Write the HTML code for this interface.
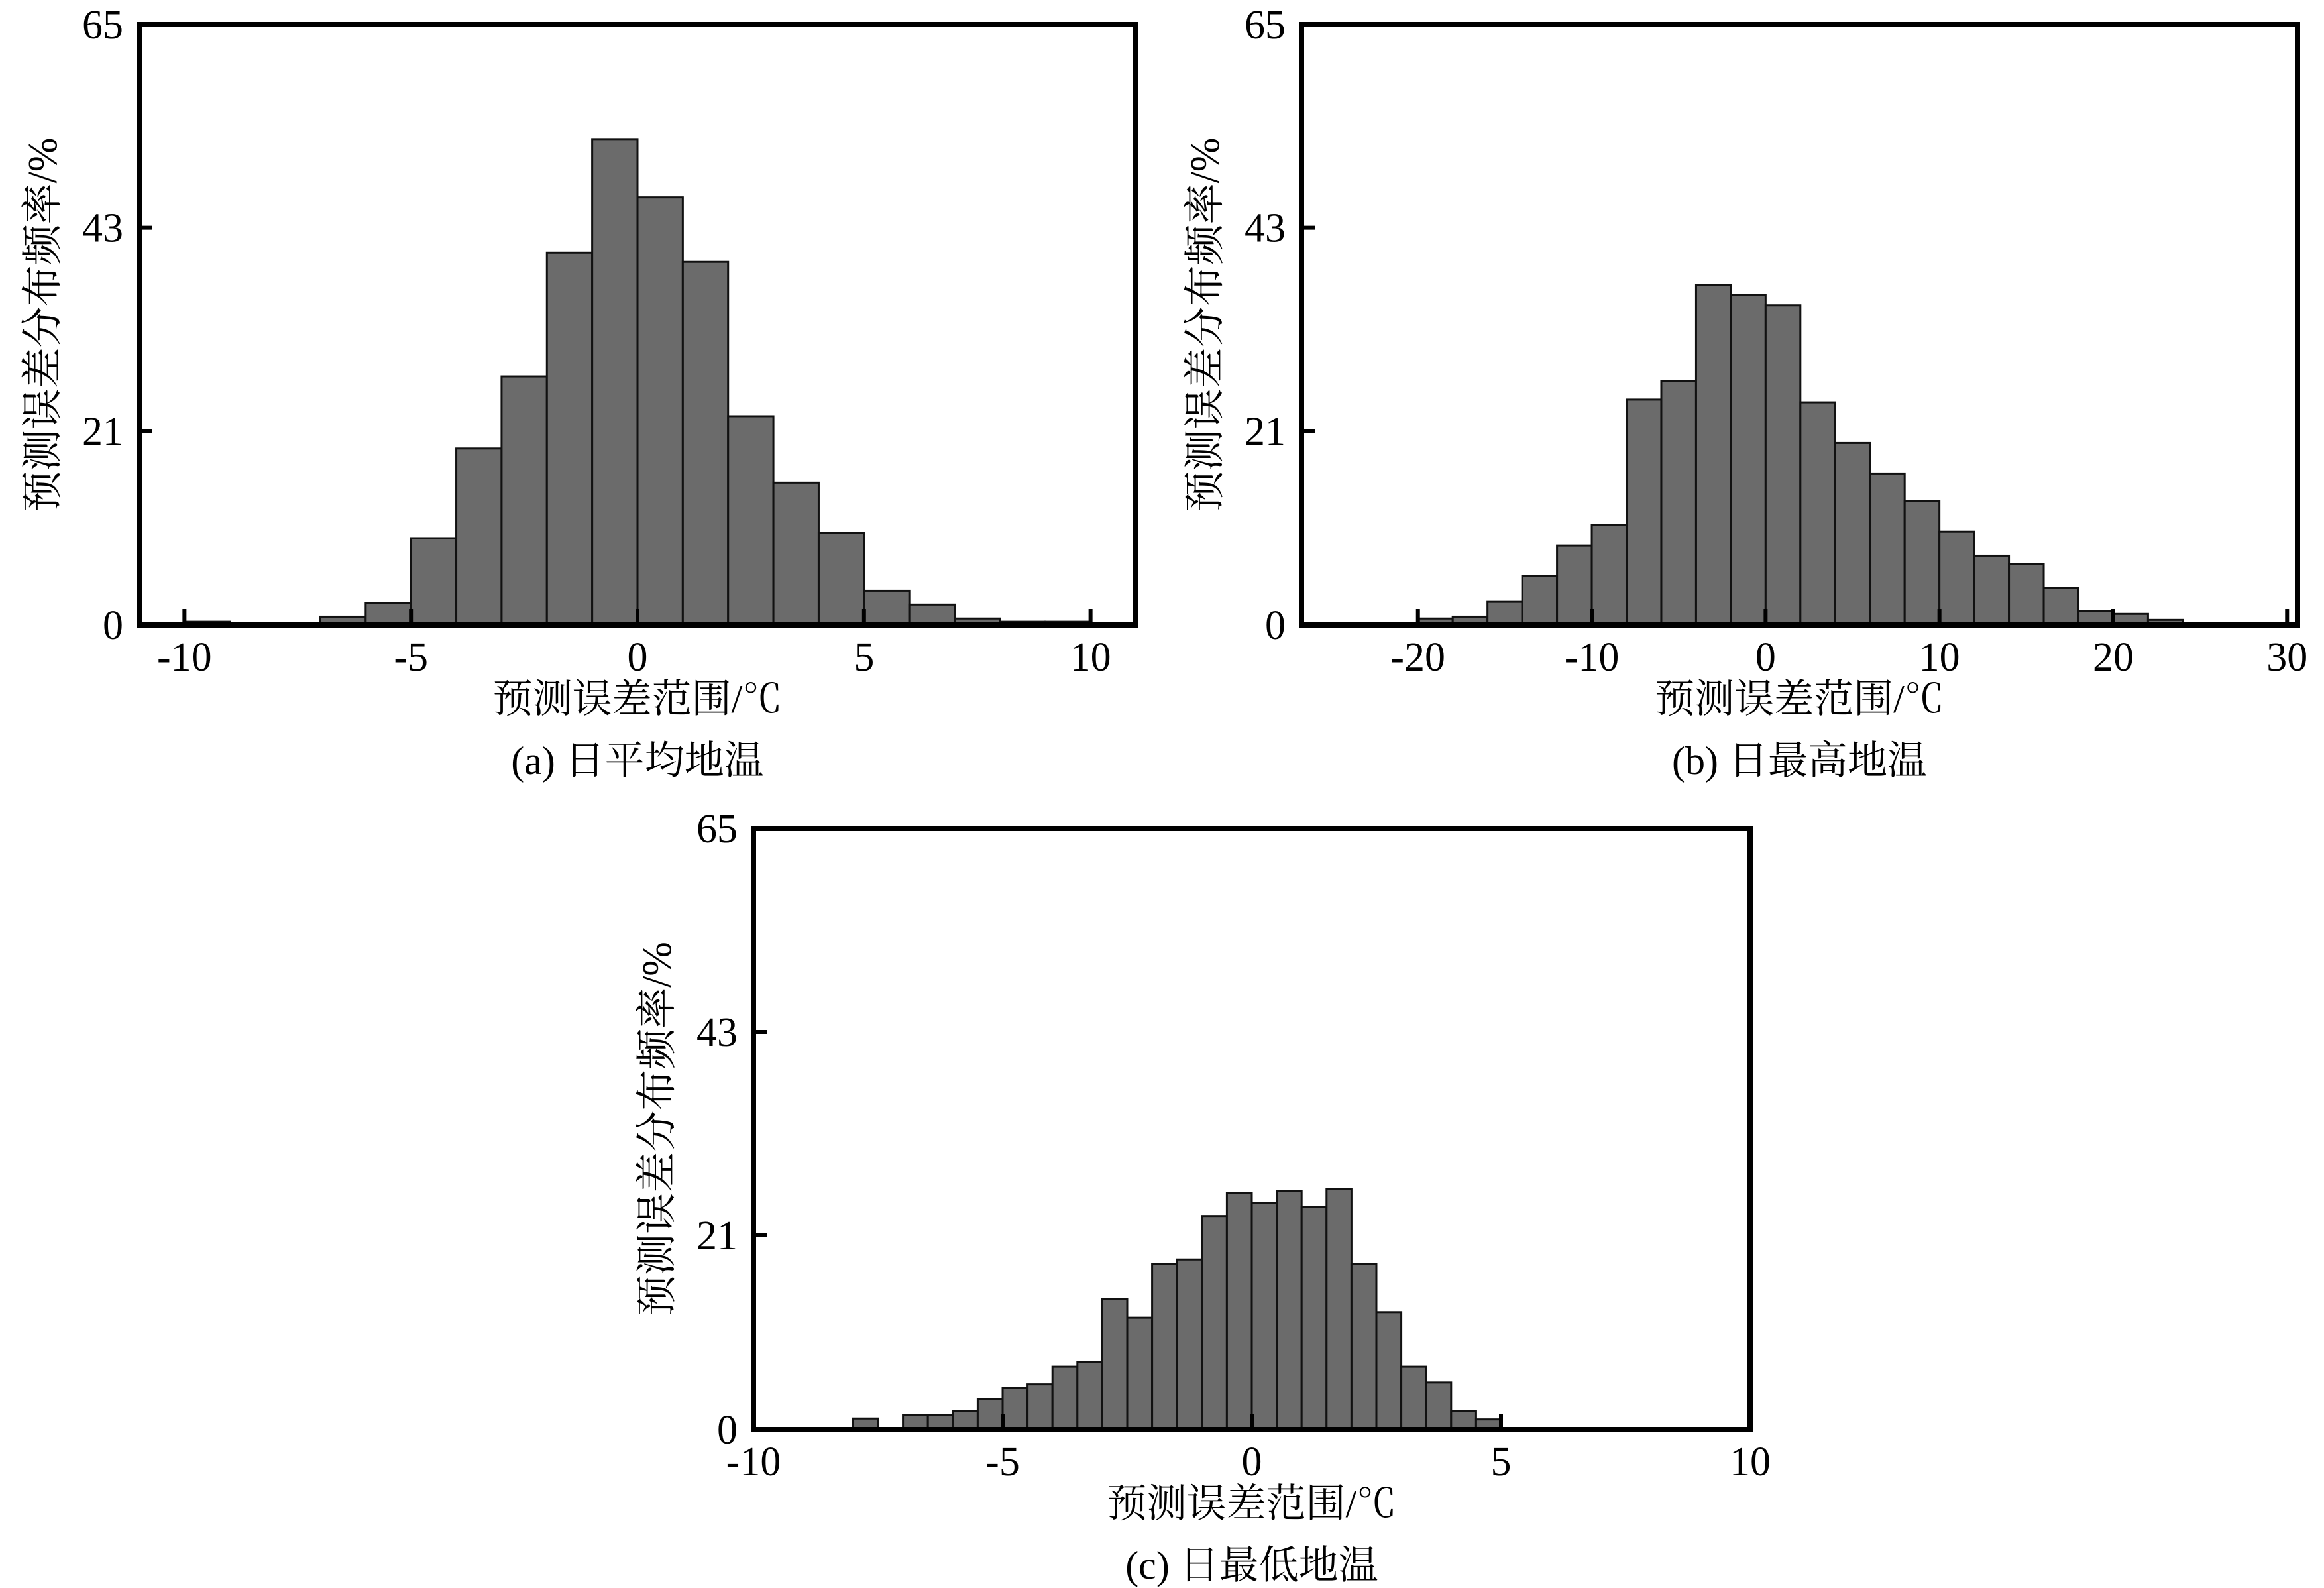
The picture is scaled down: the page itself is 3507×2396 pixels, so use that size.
<!DOCTYPE html>
<html><head><meta charset="utf-8">
<style>
html,body{margin:0;padding:0;background:#fff;}
svg{display:block;}
text{font-family:"Liberation Serif","Noto Serif CJK SC","Noto Sans CJK SC",serif;fill:#000;}
</style></head>
<body>
<svg id="fig" xmlns="http://www.w3.org/2000/svg" width="3507" height="2396" viewBox="0 0 3507 2396"></svg>
<script>
// Panel (a) daily mean ground temperature: bins of width 1
const aBinStarts = [-10,-7,-6,-5,-4,-3,-2,-1,0,1,2,3,4,5,6,7,8,9];
const aValues    = [0.35,0.9,2.4,9.4,19.1,26.9,40.3,52.6,46.3,39.3,22.6,15.4,10.0,3.7,2.2,0.7,0.35,0.35];
const aXTicks = [-10,-5,0,5,10];
// Panel (b) daily max ground temperature: bins of width 2
const bBinStarts = [-20,-18,-16,-14,-12,-10,-8,-6,-4,-2,0,2,4,6,8,10,12,14,16,18,20,22];
const bValues    = [0.7,0.9,2.5,5.3,8.6,10.8,24.4,26.4,36.8,35.7,34.6,24.1,19.7,16.4,13.4,10.1,7.5,6.6,4.0,1.5,1.2,0.55];
const bXTicks = [-20,-10,0,10,20,30];
// Panel (c) daily min ground temperature: bins of width 0.5
const cBinStarts = [-8,-7,-6.5,-6,-5.5,-5,-4.5,-4,-3.5,-3,-2.5,-2,-1.5,-1,-0.5,0,0.5,1,1.5,2,2.5,3,3.5,4,4.5];
const cValues    = [1.2,1.6,1.6,2.0,3.3,4.5,4.9,6.8,7.3,14.1,12.1,17.9,18.4,23.1,25.6,24.5,25.8,24.1,26.0,17.9,12.7,6.8,5.1,2.0,1.1];
const cXTicks = [-10,-5,0,5,10];
const yTicks = [0,21,43,65];
const yTitle = "预测误差分布频率/%";
const xTitle = "预测误差范围/℃";

const NS = "http://www.w3.org/2000/svg";
const svg = document.getElementById('fig');
function mk(tag, attrs, parent){
  const e = document.createElementNS(NS, tag);
  for (const k in attrs) e.setAttribute(k, attrs[k]);
  (parent||svg).appendChild(e);
  return e;
}

function panel(p){
  const g = mk('g', {});
  
  
  const xs = v => p.left + (v - p.xmin) / (p.xmax - p.xmin) * (p.right - p.left);
  const ys = v => p.bottom - (v - 0) / 65 * (p.bottom - p.top);
  // bars
  p.starts.forEach((s, i) => {
    const x0 = xs(s), x1 = xs(s + p.bw), y = ys(p.vals[i]);
    const r = mk('rect', {x: x0, y: y, width: x1 - x0, height: p.bottom - y, fill: '#6b6b6b', stroke: '#111', 'stroke-width': 3}, g);
    
    
  });
  // frame
  const f = mk('rect', {x: p.left, y: p.top, width: p.right - p.left, height: p.bottom - p.top, fill: 'none', stroke: '#000', 'stroke-width': 8}, g);
  
  
  // x ticks
  p.xticks.forEach(t => {
    const x = xs(t);
    const l = mk('line', {x1: x, x2: x, y1: p.bottom, y2: p.bottom - 24, stroke: '#000', 'stroke-width': 6}, g);
    
    
    const tx = mk('text', {x: x, y: p.bottom + 69, 'font-size': 62, 'text-anchor': 'middle'}, g);
    tx.textContent = String(t);
    
    
  });
  // y ticks
  yTicks.forEach(t => {
    const y = ys(t);
    const l = mk('line', {x1: p.left, x2: p.left + 20, y1: y, y2: y, stroke: '#000', 'stroke-width': 6}, g);
    
    
    const tx = mk('text', {x: p.left - 24, y: y + 21, 'font-size': 62, 'text-anchor': 'end'}, g);
    tx.textContent = String(t);
    
    
  });
  // y title
  const cy = (p.top + p.bottom) / 2;
  const yt = mk('text', {x: 0, y: 0, 'font-size': 62, 'text-anchor': 'middle', transform: 'translate(' + (p.left - 125) + ',' + cy + ') rotate(-90)'}, g);
  yt.textContent = yTitle;
  
  
  // x title
  const cx = (p.left + p.right) / 2;
  const xt = mk('text', {x: cx, y: p.bottom + 132, 'font-size': 60, 'text-anchor': 'middle'}, g);
  xt.textContent = xTitle;
  
  
  const cp = mk('text', {x: cx, y: p.bottom + 225, 'font-size': 60, 'text-anchor': 'middle'}, g);
  cp.textContent = p.caption;
  
  
}

panel({id:'a', left:210, right:1714, top:37, bottom:943, xmin:-11, xmax:11, bw:1, starts:aBinStarts, vals:aValues, xticks:aXTicks, caption:'(a) 日平均地温'});
panel({id:'b', left:1964, right:3467, top:37, bottom:943, xmin:-26.7, xmax:30.6, bw:2, starts:bBinStarts, vals:bValues, xticks:bXTicks, caption:'(b) 日最高地温'});
panel({id:'c', left:1137, right:2641, top:1250, bottom:2157, xmin:-10, xmax:10, bw:0.5, starts:cBinStarts, vals:cValues, xticks:cXTicks, caption:'(c) 日最低地温'});
</script>
</body></html>
